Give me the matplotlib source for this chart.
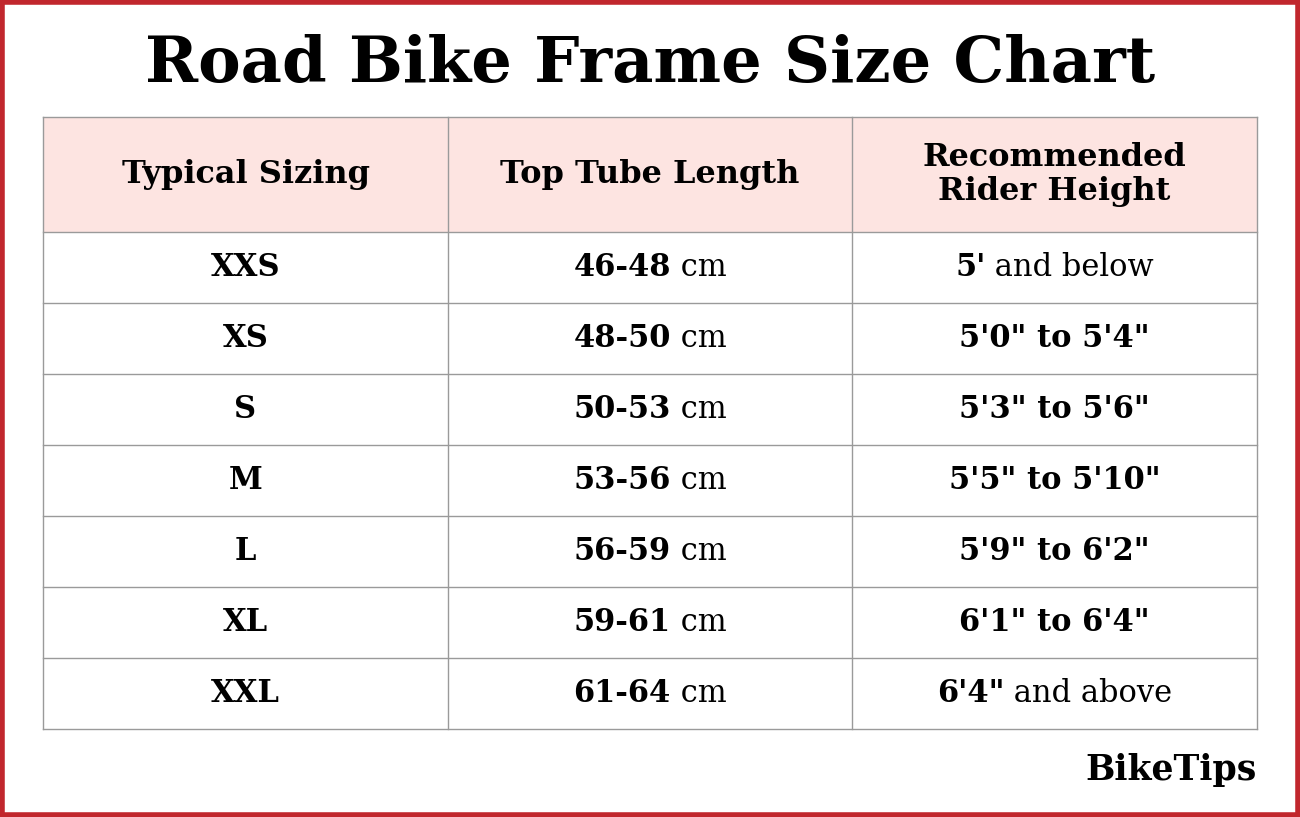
import matplotlib.pyplot as plt
from matplotlib.patches import Rectangle

title = "Road Bike Frame Size Chart"
headers = ["Typical Sizing", "Top Tube Length", "Recommended\nRider Height"]
sizes = ["XXS", "XS", "S", "M", "L", "XL", "XXL"]
lengths = ["46-48", "48-50", "50-53", "53-56", "56-59", "59-61", "61-64"]
# (bold part, regular part)
heights = [("5'", " and below"), ("5'0\" to 5'4\"", ""), ("5'3\" to 5'6\"", ""),
           ("5'5\" to 5'10\"", ""), ("5'9\" to 6'2\"", ""), ("6'1\" to 6'4\"", ""),
           ("6'4\"", " and above")]

W, H = 1300, 817
fig = plt.figure(figsize=(13, 8.17), dpi=100)
ax = fig.add_axes([0, 0, 1, 1])
ax.set_xlim(0, W)
ax.set_ylim(H, 0)
ax.axis('off')

font = "DejaVu Serif"
ax.add_patch(Rectangle((2, 2), W - 4, H - 4, fill=False, ec="#c1272d", lw=4))
ax.text(W / 2, 64, title, ha='center', va='center', fontsize=46,
        fontweight='bold', family=font)

cols = [43, 448, 852, 1257]
top, hdr_bot, row_h = 117, 232, 71
n = len(sizes)
bottom = hdr_bot + n * row_h
ax.add_patch(Rectangle((cols[0], top), cols[-1] - cols[0], hdr_bot - top,
                       fc="#fde4e1", ec="none"))
grid = dict(color="#9a9a9a", lw=1)
for x in cols:
    ax.plot([x, x], [top, bottom], **grid)
for y in [top, hdr_bot] + [hdr_bot + (i + 1) * row_h for i in range(n)]:
    ax.plot([cols[0], cols[-1]], [y, y], **grid)

fs = 22
for j, h in enumerate(headers):
    ax.text((cols[j] + cols[j + 1]) / 2, (top + hdr_bot) / 2, h, ha='center',
            va='center', fontsize=23, fontweight='bold', family=font,
            linespacing=1.1)

fig.canvas.draw()
r = fig.canvas.get_renderer()


def mixed(xc, yc, bold, reg):
    t1 = ax.text(0, yc, bold, fontsize=fs, fontweight='bold', family=font, va='center')
    t2 = ax.text(0, yc, reg, fontsize=fs, family=font, va='center')
    w1 = t1.get_window_extent(r).width if bold else 0
    w2 = t2.get_window_extent(r).width if reg else 0
    x0 = xc - (w1 + w2) / 2
    t1.set_x(x0)
    t2.set_x(x0 + w1)


for i in range(n):
    yc = hdr_bot + (i + 0.5) * row_h
    ax.text((cols[0] + cols[1]) / 2, yc, sizes[i], ha='center', va='center',
            fontsize=fs, fontweight='bold', family=font)
    mixed((cols[1] + cols[2]) / 2, yc, lengths[i], " cm")
    mixed((cols[2] + cols[3]) / 2, yc, *heights[i])

ax.text(1257, 770, "BikeTips", ha='right', va='center', fontsize=25,
        fontweight='heavy', family=font)

fig.savefig("out.png", dpi=100)
